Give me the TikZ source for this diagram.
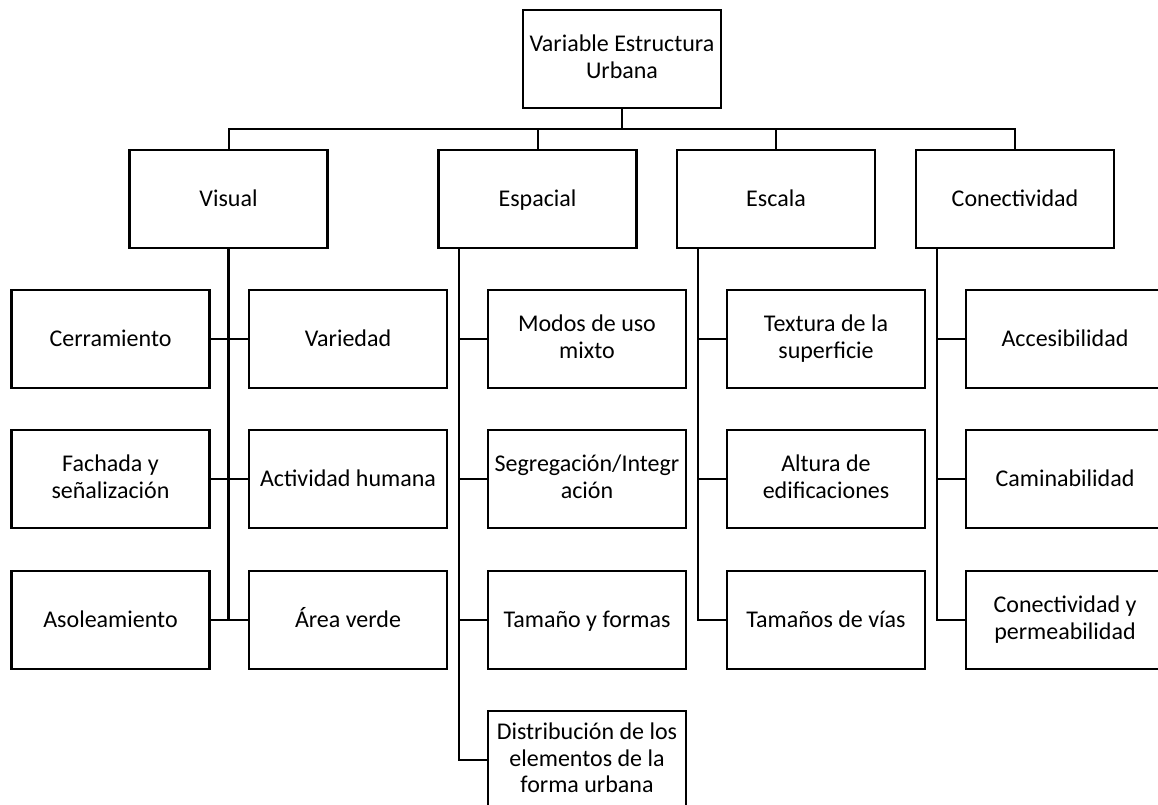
\documentclass[tikz,border=0pt]{standalone}
\usepackage{fontspec}
\setmainfont{Carlito}
\begin{document}
\begin{tikzpicture}[x=0.75pt,y=-0.75pt,
  box/.style={draw=black,line width=1.6pt,rectangle,minimum width=148.5pt,minimum height=73.5pt,inner sep=0pt,align=center,font=\fontsize{18}{20}\selectfont,
    execute at begin node={\vphantom{Ág}}, execute at end node={\vphantom{Ág}}},
  conn/.style={draw=black,line width=1.5pt},
  thick conn/.style={draw=black,line width=2.6pt}]
\useasboundingbox (0,0) rectangle (1158,805);
% top
\node[box] (top) at (622,59) {Variable Estructura\\Urbana};
% level 2
\node[box] (vis) at (228.5,199) {Visual};
\node[box] (esp) at (537.5,199) {Espacial};
\node[box] (esc) at (776,199) {Escala};
\node[box] (con) at (1015,199) {Conectividad};
% Visual children
\node[box] (cerr) at (110.5,339) {Cerramiento};
\node[box] (var) at (348,339) {Variedad};
\node[box] (fach) at (110.5,479) {Fachada y\\señalización};
\node[box] (act) at (348,479) {Actividad humana};
\node[box] (aso) at (110.5,620) {Asoleamiento};
\node[box] (area) at (348,620) {Área verde};
% Espacial children
\node[box] (mod) at (587,339) {Modos de uso\\mixto};
\node[box] (seg) at (587,479) {Segregación/Integr\\ación};
\node[box] (tam) at (587,620) {Tamaño y formas};
\node[box] (dist) at (587,760) {Distribución de los\\elementos de la\\forma urbana};
% Escala children
\node[box] (tex) at (826,339) {Textura de la\\superficie};
\node[box] (alt) at (826,479) {Altura de\\edificaciones};
\node[box] (via) at (826,620) {Tamaños de vías};
% Conectividad children
\node[box] (acc) at (1065,339) {Accesibilidad};
\node[box] (cam) at (1065,479) {Caminabilidad};
\node[box] (cyp) at (1065,620) {Conectividad y\\permeabilidad};
% bus
\coordinate (bus) at (622,129);
\draw[conn] (top.south) -- (bus);
\draw[conn] (vis.north) -- (vis.north |- bus) -- (con.north |- bus) -- (con.north);
\draw[conn] (esp.north) -- (esp.north |- bus);
\draw[conn] (esc.north) -- (esc.north |- bus);
% Visual tree
\draw[thick conn] (vis.south) -- (vis.south |- aso.east);
\draw[conn] (cerr.east) -- (var.west);
\draw[conn] (fach.east) -- (act.west);
\draw[conn] (aso.east) -- (area.west);
% Espacial tree
\coordinate (e0) at (459,248);
\draw[conn] (e0) |- (dist.west);
\draw[conn] (e0 |- mod.west) -- (mod.west);
\draw[conn] (e0 |- seg.west) -- (seg.west);
\draw[conn] (e0 |- tam.west) -- (tam.west);
% Escala tree
\coordinate (s0) at (697.5,248);
\draw[conn] (s0) |- (via.west);
\draw[conn] (s0 |- tex.west) -- (tex.west);
\draw[conn] (s0 |- alt.west) -- (alt.west);
% Conectividad tree
\coordinate (c0) at (936.5,248);
\draw[conn] (c0) |- (cyp.west);
\draw[conn] (c0 |- acc.west) -- (acc.west);
\draw[conn] (c0 |- cam.west) -- (cam.west);
\end{tikzpicture}
\end{document}
